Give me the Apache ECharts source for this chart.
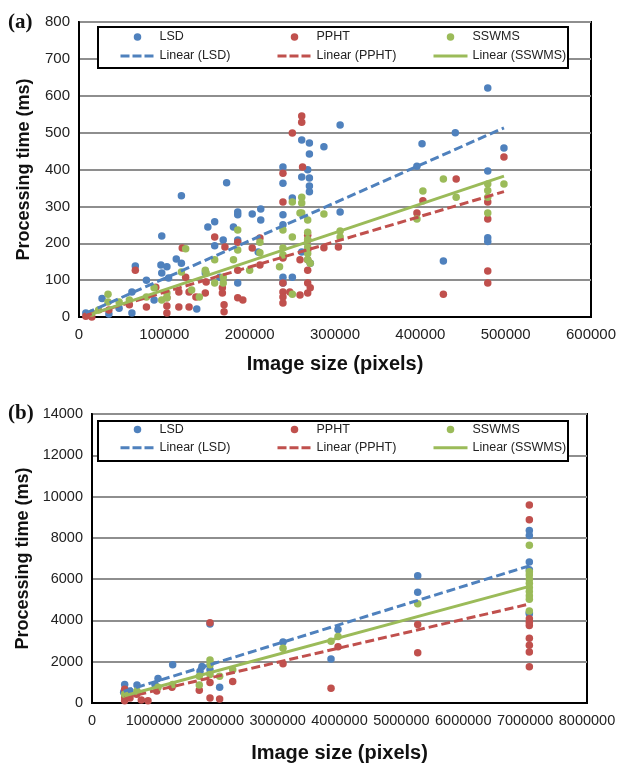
<!DOCTYPE html>
<html>
<head>
<meta charset="utf-8">
<script src="https://cdn.jsdelivr.net/npm/echarts@6.0.0/dist/echarts.min.js"></script>
<style>
  html, body { margin: 0; padding: 0; background: #fff; }
  .panel { width: 630px; height: 384px; }
</style>
</head>
<body>
<div id="chartA" class="panel"></div>
<div id="chartB" class="panel"></div>
<script>
// ---- panel (a) data: [image size (pixels), processing time (ms)] ----
var lsdA = [[8000,11],[35000,8],[27000,50],[47000,24],[62000,11],[62000,68],[79000,100],[88000,46],[66000,138],
  [96000,141],[97000,119],[97000,220],[103000,136],[105000,106],[114000,157],[120000,146],[120000,329],
  [138000,22],[148000,119],[151000,244],[159000,193],[159000,258],[165000,108],[169000,209],[173000,364],
  [181000,244],[186000,285],[186000,277],[186000,209],[186000,92],[203000,279],[210000,176],[213000,293],
  [213000,263],[239000,407],[239000,363],[239000,277],[239000,250],[239000,163],[239000,108],[239000,92],
  [250000,323],[250000,108],[261000,480],[261000,380],[261000,176],[268000,399],[270000,472],[270000,442],
  [270000,377],[270000,355],[270000,340],[271000,146],[287000,462],[306000,285],[306000,521],[396000,409],
  [402000,470],[427000,152],[441000,500],[479000,621],[479000,396],[479000,215],[479000,205],[498000,458]];
var pphtA = [[8000,2],[15000,0],[35000,19],[59000,33],[66000,127],[79000,27],[90000,81],[103000,52],
  [103000,30],[103000,11],[117000,68],[117000,27],[121000,187],[125000,108],[129000,68],[129000,27],
  [137000,54],[149000,95],[148000,65],[159000,217],[168000,79],[168000,65],[170000,33],[170000,14],
  [171000,190],[186000,203],[186000,127],[186000,52],[192000,46],[203000,187],[212000,214],[212000,141],
  [239000,390],[239000,312],[239000,160],[239000,92],[239000,68],[239000,54],[239000,38],[247000,68],
  [250000,499],[259000,155],[259000,60],[261000,545],[261000,528],[262000,407],[268000,222],[268000,209],
  [268000,182],[268000,155],[268000,127],[268000,92],[268000,65],[271000,79],[287000,188],[304000,190],
  [396000,282],[403000,315],[427000,62],[442000,374],[479000,312],[479000,266],[479000,125],[479000,92],
  [498000,434]];
var sswmsA = [[15000,11],[23000,19],[34000,62],[34000,41],[47000,41],[59000,46],[79000,54],[88000,79],
  [97000,46],[103000,65],[103000,52],[120000,122],[125000,185],[132000,73],[141000,54],[148000,127],
  [149000,119],[159000,155],[159000,92],[169000,108],[169000,92],[181000,155],[186000,236],[186000,182],
  [200000,127],[212000,203],[212000,174],[235000,136],[239000,236],[239000,187],[239000,168],[250000,312],
  [250000,217],[250000,62],[259000,282],[261000,325],[261000,309],[261000,282],[268000,263],[268000,230],
  [268000,210],[268000,190],[268000,172],[268000,155],[271000,146],[287000,279],[306000,233],[306000,217],
  [396000,266],[403000,342],[427000,374],[442000,325],[479000,361],[479000,343],[479000,325],[479000,282],
  [498000,361]];
// linear trendlines: [start, end] in data units
var trendA = [
  [[8000,10],[498000,513]],
  [[8000,4],[498000,340]],
  [[15000,8],[498000,382]]
];

// ---- panel (b) data ----
var lsdB = [[512000,522],[528000,902],[614000,584],[727000,870],[1018000,902],[1067000,1187],[1304000,1851],
  [1746000,1533],[1778000,1770],[1907000,3830],[1907000,1614],[2063000,760],[3087000,2957],[3863000,2136],
  [3976000,3560],[5264000,6170],[5264000,5363],[7068000,8353],[7068000,8116],[7068000,6834],[7068000,6454],
  [7068000,4366],[7068000,4319]];
var pphtB = [[528000,664],[528000,285],[528000,109],[614000,237],[722000,427],[797000,142],[905000,109],
  [1046000,584],[1293000,760],[1734000,617],[1907000,3892],[1907000,997],[1907000,237],[2063000,190],
  [2274000,1044],[3087000,1898],[3863000,712],[3976000,2720],[5264000,3797],[5264000,2435],[7068000,9587],
  [7068000,8875],[7068000,4082],[7068000,3900],[7068000,3749],[7068000,3132],[7068000,2800],[7068000,2468],
  [7068000,1756]];
var sswmsB = [[528000,427],[727000,584],[1067000,760],[1304000,902],[1734000,1296],[1734000,870],
  [1907000,2088],[1907000,1851],[1907000,1376],[2063000,1296],[2274000,1614],[3087000,2658],[3863000,2990],
  [3976000,3227],[5264000,4808],[7068000,7641],[7068000,6360],[7068000,6200],[7068000,6000],[7068000,5800],
  [7068000,5600],[7068000,5400],[7068000,5200],[7068000,5031],[7068000,4461]];
var trendB = [
  [[512000,560],[7068000,6644]],
  [[528000,260],[7068000,4793]],
  [[528000,350],[7068000,5648]]
];

var names = ['LSD', 'PPHT', 'SSWMS'];
var colors = ['#4F81BD', '#C0504D', '#9BBB59'];

function plain(v) { return String(v); }

function makeOption(cfg) {
  var series = [];
  cfg.sets.forEach(function (pts, i) {
    series.push({
      name: names[i], type: 'scatter', data: pts, symbolSize: 7.5,
      itemStyle: { color: colors[i], opacity: 1 }, z: 2
    });
  });
  cfg.trends.forEach(function (seg, i) {
    series.push({
      name: 'Linear (' + names[i] + ')', type: 'line', data: seg, symbol: 'none',
      lineStyle: { color: colors[i], width: 3, type: i === 2 ? 'solid' : [9, 4] },
      itemStyle: { color: colors[i], opacity: 0 }, z: 3
    });
  });
  var legends = names.map(function (nm, i) {
    return {
      orient: 'vertical', left: cfg.legendX[i], top: cfg.legendTop, padding: 0,
      itemWidth: 34, itemHeight: 7.5, itemGap: cfg.legendGap,
      textStyle: { fontFamily: 'Liberation Sans', fontSize: 12.5, color: '#222' },
      data: [
        { name: nm, icon: 'circle' },
        { name: 'Linear (' + nm + ')', itemStyle: { opacity: 0 },
          lineStyle: { width: 3, type: i === 2 ? 'solid' : [9, 3] } }
      ],
      selectedMode: false, z: 5
    };
  });
  var labelFont = { fontFamily: 'Liberation Sans', fontSize: cfg.tickSize, color: '#222', formatter: plain };
  var titleFont = { fontFamily: 'Liberation Sans', fontWeight: 'bold', color: '#111' };
  return {
    animation: false,
    grid: {
      left: cfg.grid[0], top: cfg.grid[1], right: cfg.grid[2], bottom: cfg.grid[3],
      show: true, borderColor: '#000', borderWidth: 2, backgroundColor: '#fff'
    },
    legend: legends,
    graphic: [
      { type: 'rect', z: 4, shape: cfg.legendBox, style: { fill: '#fff', stroke: '#000', lineWidth: 2 } },
      { type: 'text', z: 4, x: 8, y: cfg.tagY,
        style: { text: cfg.tag, font: 'bold 21px "Liberation Serif"', fill: '#111', verticalAlign: 'middle' } }
    ],
    xAxis: {
      type: 'value', min: 0, max: cfg.xMax, interval: cfg.xStep,
      name: 'Image size (pixels)', nameLocation: 'middle', nameGap: cfg.xNameGap,
      nameTextStyle: Object.assign({ fontSize: 20 }, titleFont),
      axisLine: { lineStyle: { color: '#000', width: 2 } },
      axisTick: { show: false },
      axisLabel: Object.assign({ margin: 10 }, labelFont),
      splitLine: { show: false }
    },
    yAxis: {
      type: 'value', min: 0, max: cfg.yMax, interval: cfg.yStep,
      name: 'Processing time (ms)', nameLocation: 'middle', nameGap: cfg.yNameGap,
      nameTextStyle: Object.assign({ fontSize: 18 }, titleFont),
      axisLine: { show: true, lineStyle: { color: '#000', width: 2 } },
      axisTick: { show: false },
      axisLabel: Object.assign({ margin: 9 }, labelFont),
      splitLine: { lineStyle: { color: '#8e8e8e', width: 2 } }
    },
    series: series
  };
}

var chartA = echarts.init(document.getElementById('chartA'));
chartA.setOption(makeOption({
  sets: [lsdA, pphtA, sswmsA], trends: trendA, tag: '(a)', tagY: 23,
  grid: [79, 22, 39, 67], xMax: 600000, xStep: 100000, yMax: 800, yStep: 100,
  tickSize: 15, xNameGap: 37, yNameGap: 46,
  legendX: [119, 276, 432], legendTop: 30.5, legendGap: 6,
  legendBox: { x: 98, y: 27, width: 470, height: 41 }
}));

var chartB = echarts.init(document.getElementById('chartB'));
chartB.setOption(makeOption({
  sets: [lsdB, pphtB, sswmsB], trends: trendB, tag: '(b)', tagY: 30,
  grid: [92, 30, 43, 59], xMax: 8000000, xStep: 1000000, yMax: 14000, yStep: 2000,
  tickSize: 14.5, xNameGap: 40, yNameGap: 60,
  legendX: [119, 276, 432], legendTop: 39, legendGap: 5.3,
  legendBox: { x: 98, y: 37, width: 470, height: 40 }
}));
</script>
</body>
</html>
